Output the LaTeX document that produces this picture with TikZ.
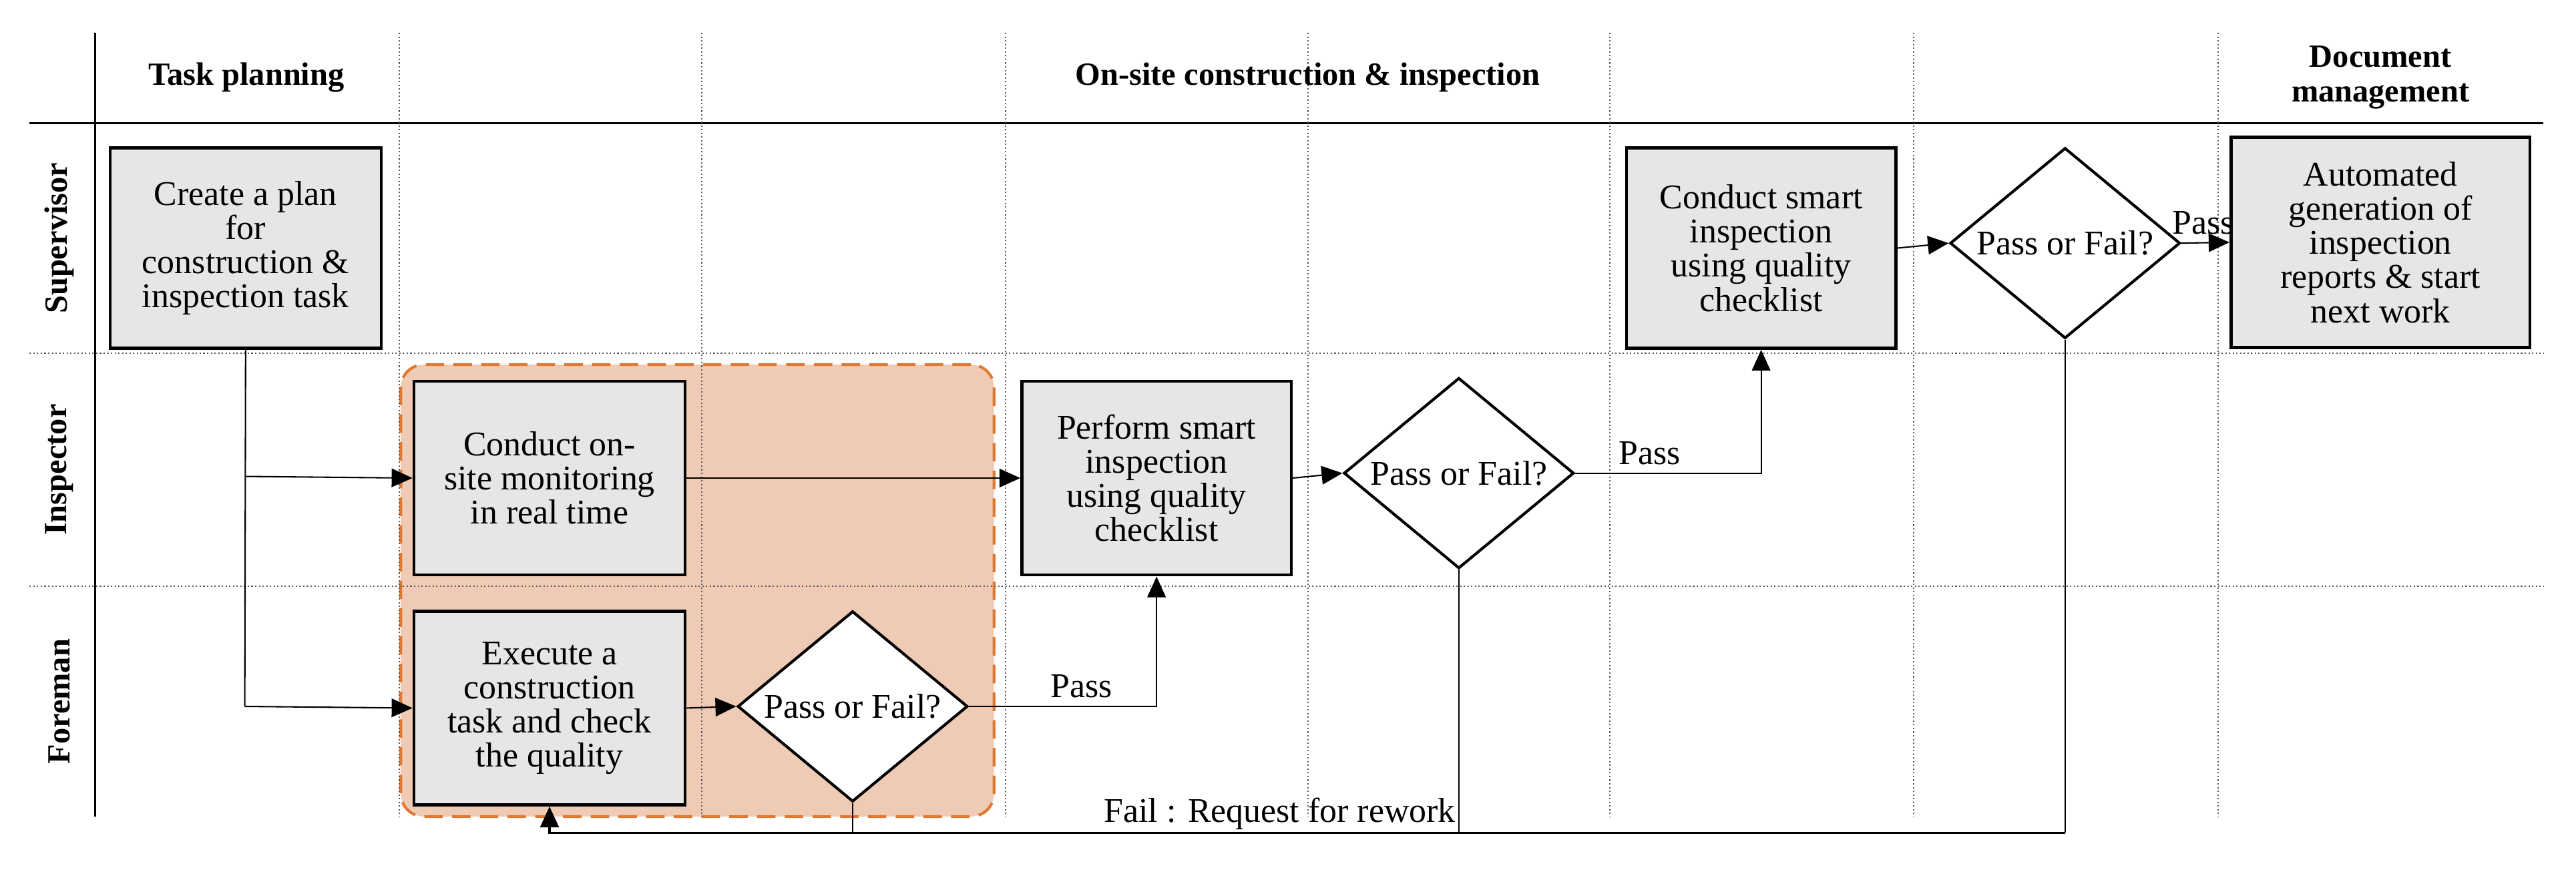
\documentclass[tikz,border=0pt]{standalone}
\usepackage{fontspec}
\setmainfont{Liberation Serif}
\usetikzlibrary{arrows.meta,shapes.geometric}
\definecolor{boxgray}{RGB}{230,230,230}
\definecolor{regfill}{RGB}{239,203,182}
\definecolor{regline}{RGB}{222,120,50}
\begin{document}
\begin{tikzpicture}[x=0.025cm,y=-0.025cm,
  txt/.style={font=\rmfamily\fontsize{15}{14.8}\selectfont},
  box/.style={draw,line width=1.3pt,fill=boxgray,align=center,txt,inner sep=2pt},
  dia/.style={draw,diamond,line width=1.2pt,fill=white,inner sep=0pt,minimum width=3.5cm,minimum height=2.9cm,label={[txt]center:Pass or Fail?}},
  arr/.style={-{Triangle[length=9pt,width=8pt]},line width=0.6pt},
  ln/.style={line width=0.6pt},
  grid/.style={densely dotted,line width=0.6pt,gray!70!black},
  hdr/.style={font=\rmfamily\fontsize{14}{15}\selectfont\bfseries,align=center}]
\useasboundingbox (0,0) rectangle (1568,532);
\node[draw=regline,fill=regfill,dashed,dash pattern=on 8pt off 4pt,line width=1.2pt,rounded corners=10pt,minimum width=9.025cm,minimum height=6.875cm,inner sep=0pt] (reg) at (424.5,359.5) {};
\draw[line width=1pt] (58,20) -- (58,497);
\draw[line width=1pt] (18,75) -- (1548,75);
\draw[grid] (18,215) -- (1548,215);
\draw[grid] (18,357) -- (1548,357);
\foreach \x in {243,427,612,796,980,1165,1350} \draw[grid] (\x,20) -- (\x,497);
\node[hdr] (h1) at (150,47) {Task planning};
\node[hdr] (h2) at (796,47) {On-site construction \& inspection};
\node[hdr] (h3) at (1449,47) {Document\\management};
\node[hdr,rotate=90] (l1) at (36,145) {Supervisor};
\node[hdr,rotate=90] (l2) at (36,286) {Inspector};
\node[hdr,rotate=90] (l3) at (36,427) {Foreman};
\node[box,minimum width=4.125cm,minimum height=3.05cm] (plan) at (149.5,151) {Create a plan\\for\\construction \&\\inspection task};
\node[box,minimum width=4.125cm,minimum height=2.95cm] (mon) at (334.5,291) {Conduct on-\\site monitoring\\in real time};
\node[box,minimum width=4.125cm,minimum height=2.95cm] (exe) at (334.5,431) {Execute a\\construction\\task and check\\the quality};
\node[dia] (d1) at (519,430) {};
\node[box,minimum width=4.1cm,minimum height=2.95cm] (perf) at (704,291) {Perform smart\\inspection\\using quality\\checklist};
\node[dia] (d2) at (888,288) {};
\node[box,minimum width=4.1cm,minimum height=3.05cm] (cond) at (1072,151) {Conduct smart\\inspection\\using quality\\checklist};
\node[dia] (d3) at (1257,148) {};
\node[box,minimum width=4.55cm,minimum height=3.2cm] (auto) at (1449,147.5) {Automated\\generation of\\inspection\\reports \& start\\next work};
\coordinate (b1) at (149,290);
\coordinate (b2) at (149,430);
\draw[ln] (plan.south) -- (b2);
\draw[arr] (b1) -- (mon.west);
\draw[arr] (b2) -- (exe.west);
\draw[arr] (mon.east) -- (perf.west);
\draw[arr] (exe.east) -- (d1.west);
\draw[arr] (d1.east) -| node[pos=0.3,above,txt]{Pass} (perf.south);
\draw[arr] (perf.east) -- (d2.west);
\draw[arr] (d2.east) -| node[pos=0.2,above,txt]{Pass} (cond.south);
\draw[arr] (cond.east) -- (d3.west);
\draw[arr] (d3.east) -- node[above,txt,pos=0.45]{Pass} (auto.west);
\coordinate (f1) at (519,507);
\coordinate (f2) at (888,507);
\coordinate (f3) at (1257,507);
\draw[ln] (d1.south) -- (f1);
\draw[ln] (d2.south) -- (f2);
\draw[ln] (d3.south) -- (f3);
\draw[arr,line width=1pt] (f3) -- (f2) -- node[above left,txt,pos=0,inner sep=1pt]{Fail : Request for rework} (f1) -| (exe.south);
\end{tikzpicture}
\end{document}
